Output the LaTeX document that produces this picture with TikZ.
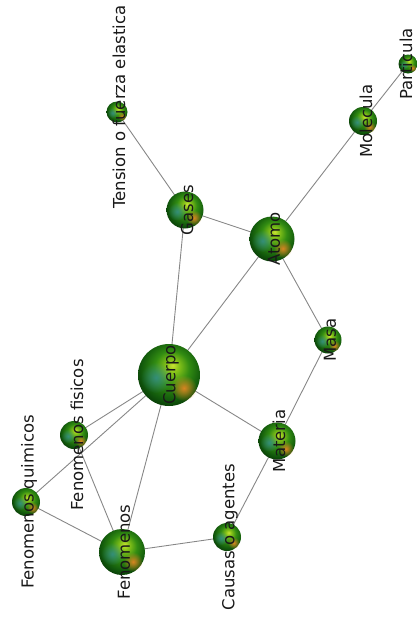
\documentclass[tikz,border=0pt]{standalone}
\usepackage{fontspec}
\setmainfont{DejaVu Sans}
\usetikzlibrary{fadings,backgrounds}
\definecolor{bA}{RGB}{200,225,50}
\definecolor{bB}{RGB}{135,195,25}
\definecolor{bC}{RGB}{50,140,18}
\definecolor{bD}{RGB}{18,90,12}
\definecolor{bE}{RGB}{4,45,4}
\definecolor{tealc}{RGB}{55,145,165}
\definecolor{orangec}{RGB}{235,135,35}
\definecolor{edgec}{RGB}{135,135,135}
\definecolor{labc}{RGB}{25,25,25}
\pgfdeclareradialshading{greenball}{\pgfpoint{3bp}{8bp}}{color(0bp)=(bA); color(5bp)=(bB); color(14bp)=(bC); color(24bp)=(bD); color(32bp)=(bE); color(50bp)=(bE)}
\tikzfading[name=spotfade, inner color=transparent!0, outer color=transparent!100]
\tikzset{
  ballstyle/.style={circle, inner sep=0pt, shading=greenball},
  tealspot/.style={fill=tealc, fill opacity=0.7},
  orangespot/.style={fill=orangec, fill opacity=0.9},
  link/.style={draw=edgec, line width=0.9pt},
  lab/.style={rotate=90, text=labc, inner sep=0pt, font=\fontsize{16.5}{20}\selectfont}
}
\newcommand\ballnode[4]{%
  \node[ballstyle, minimum size={2*#4}] (#1) at (#2,#3) {};
  \begin{scope}[shift={(#2,#3)}]
    \fill[tealspot, path fading=spotfade] ({-0.42*#4},{0.08*#4}) circle ({0.5*#4});
    \fill[orangespot, path fading=spotfade] ({0.48*#4},{0.42*#4}) circle ({0.42*#4});
  \end{scope}
}
\begin{document}
\begin{tikzpicture}[x=1pt,y=-1pt]
\useasboundingbox (0,0) rectangle (417,627);
\ballnode{cuerpo}{169}{375}{31}
\ballnode{fisicos}{74}{435}{14}
\ballnode{quimicos}{26}{502}{14}
\ballnode{fenomenos}{122}{552}{23}
\ballnode{causas}{227}{537}{14}
\ballnode{materia}{277}{441}{18.5}
\ballnode{masa}{328}{340}{13.5}
\ballnode{atomo}{272}{239}{22.5}
\ballnode{gases}{185}{210}{18.5}
\ballnode{tension}{117}{112}{10.5}
\ballnode{molecula}{363}{121}{14}
\ballnode{particula}{408}{64}{9.5}
\begin{scope}[on background layer]
  \draw[link] (cuerpo.center) -- (gases.center);
  \draw[link] (cuerpo.center) -- (atomo.center);
  \draw[link] (cuerpo.center) -- (fisicos.center);
  \draw[link] (cuerpo.center) -- (quimicos.center);
  \draw[link] (cuerpo.center) -- (fenomenos.center);
  \draw[link] (cuerpo.center) -- (materia.center);
  \draw[link] (gases.center) -- (tension.center);
  \draw[link] (gases.center) -- (atomo.center);
  \draw[link] (atomo.center) -- (molecula.center);
  \draw[link] (molecula.center) -- (particula.center);
  \draw[link] (atomo.center) -- (masa.center);
  \draw[link] (masa.center) -- (materia.center);
  \draw[link] (materia.center) -- (causas.center);
  \draw[link] (causas.center) -- (fenomenos.center);
  \draw[link] (fenomenos.center) -- (fisicos.center);
  \draw[link] (fenomenos.center) -- (quimicos.center);
\end{scope}
\node[lab] (cuerpo-l) at (171,375) {Cuerpo};
\node[lab] (fisicos-l) at (77,435) {Fenomenos fisicos};
\node[lab] (quimicos-l) at (29,502) {Fenomenos quimicos};
\node[lab] (fenomenos-l) at (124,552) {Fenomenos};
\node[lab] (causas-l) at (230,537) {Causas o agentes};
\node[lab] (materia-l) at (279,441) {Materia};
\node[lab] (masa-l) at (330,340) {Masa};
\node[lab] (atomo-l) at (274,239) {Atomo};
\node[lab] (gases-l) at (187,210) {Gases};
\node[lab] (tension-l) at (119,107) {Tension o fuerza elastica};
\node[lab] (molecula-l) at (366,121) {Molecula};
\node[lab] (particula-l) at (406,64) {Particula};
\end{tikzpicture}
\end{document}
